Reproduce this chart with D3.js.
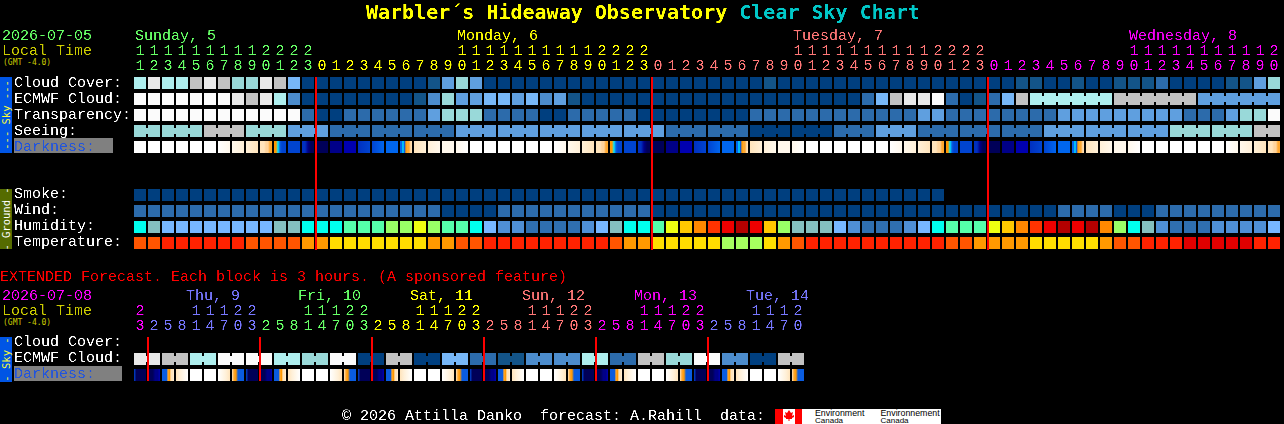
<!DOCTYPE html>
<html>
<head>
<meta charset="utf-8">
<title>Warbler's Hideaway Observatory Clear Sky Chart</title>
<script src="https://cdn.jsdelivr.net/npm/d3@7"></script>
<style>
html, body { margin: 0; padding: 0; background: #000; overflow: hidden; }
svg { display: block; }
text { white-space: pre; }
rect { shape-rendering: crispEdges; }
</style>
</head>
<body>
<div id="chart"></div>
<script>
// hour labels, main chart is hourly, extended is 3 hourly
const hours = [11,12,13,14,15,16,17,18,19,20,21,22,23,
  0,1,2,3,4,5,6,7,8,9,10,11,12,13,14,15,16,17,18,19,20,21,22,23,
  0,1,2,3,4,5,6,7,8,9,10,11,12,13,14,15,16,17,18,19,20,21,22,23,
  0,1,2,3,4,5,6,7,8,9,10,11,12,13,14,15,16,17,18,19,20];
const hourDays = [0,0,0,0,0,0,0,0,0,0,0,0,0,
  1,1,1,1,1,1,1,1,1,1,1,1,1,1,1,1,1,1,1,1,1,1,1,1,
  2,2,2,2,2,2,2,2,2,2,2,2,2,2,2,2,2,2,2,2,2,2,2,2,
  3,3,3,3,3,3,3,3,3,3,3,3,3,3,3,3,3,3,3,3,3];
const dayNames = ["Sunday, 5", "Monday, 6", "Tuesday, 7", "Wednesday, 8"];
const dayLabelCols = [0, 23, 47, 71];
const midnightCols = [13, 37, 61];

const extHours = [23,
  2,5,8,11,14,17,20,23, 2,5,8,11,14,17,20,23, 2,5,8,11,14,17,20,23,
  2,5,8,11,14,17,20,23, 2,5,8,11,14,17,20,23, 2,5,8,11,14,17,20];
const extDays = [0,
  1,1,1,1,1,1,1,1, 2,2,2,2,2,2,2,2, 3,3,3,3,3,3,3,3,
  4,4,4,4,4,4,4,4, 5,5,5,5,5,5,5,5, 6,6,6,6,6,6,6];
const extDayNames = ["", "Thu, 9", "Fri, 10", "Sat, 11", "Sun, 12", "Mon, 13", "Tue, 14"];
const extDayCols = [0, 3.71, 11.71, 19.71, 27.71, 35.71, 43.71];
const extMidnightCols = [1, 9, 17, 25, 33, 41];

// sky rows, values are tenths of the blue-to-white scale
const cloudCover = [7,9,7,7,8,9,8,6,6,9,8,5,
  0,0,0,0,0,0,0,0,0,1,4,6,4,
  0,0,0,0,0,0,0,0,0,0,0,0,0,0,0,0,0,0,0,0,1,0,0,0,0,0,0,
  0,0,0,0,0,0,0,0,0,0,0,1,1,0,0,1,0,0,1,1,1,2,0,0,0,0,1,1,4,6];
const ecmwfCloud = [10,10,10,10,10,10,10,9,8,9,7,3,
  0,0,0,0,0,0,0,0,1,3,6,4,4,5,5,4,5,3,4,1,
  0,0,0,0,0,0,0,0,0,0,0,0,0,0,0,0,0,0,0,0,
  2,5,8,9,9,10,2,0,1,2,5,8,
  7,7,7,7,7,7,8,8,8,8,8,8,4,4,4,4,4,4];
const ecmwfBlocks = [1,1,1,1,1,1,1,1,1,1,1,1,1,1,1,1,1,1,1,1,1,1,1,1,1,1,1,1,1,1,1,1,
  1,1,1,1,1,1,1,1,1,1,1,1,1,1,1,1,1,1,1,1,1,1,1,1,1,1,1,1,1,1,1,1,6,6,6];
const transparency = [10,10,10,10,10,10,10,10,10,10,10,10,
  2,0,0,2,2,2,2,2,2,4,6,6,6,2,2,2,2,0,0,2,2,2,2,2,
  0,0,0,0,0,0,0,0,2,2,2,2,2,2,2,2,
  2,2,2,2,4,4,2,2,2,2,2,2,2,2,4,4,4,4,4,4,4,4,4,2,2,2,4,6,6,10];
const seeingBlocks = [2,3,3,3,3,3,3,3,3,3,3,3,3,3,3,3,3,3,3,3,3,3,3,3,3,3,3,2];
const seeingValues = [6,6,8,6,4,2,2,2,4,4,4,4,4,2,2,0,0,2,4,2,2,2,4,4,4,6,6,8];
// each letter is one darkness cell, see darknessCells
const darkness = ["A","A","A","A","A","A","B","C","D","E","F","G","H","I","J","K","L","M","N","O","P","Q","R","S",
  "A","A","A","A","A","A","B","C","D","E","F","G","H","I","J","K","L","M","N","O","P","Q","R","S",
  "A","A","A","A","A","A","B","C","D","E","F","G","H","I","J","K","L","M","N","O","P","Q","R","S",
  "A","A","A","A","A","A","B","C","D","E"];
// levels across one cell, left to right
const darknessCells = {
  A: [0,0], B: [0,1], C: [1,2], D: [2,3], E: [3,3,3,4,4,5,5],
  F: [6,6,7,8,9,9,9], G: [9,9], H: [10,10,12,13,13], I: [13,13], J: [12,12],
  K: [11,11], L: [10,9], M: [9,14], N: [14,14], O: [14,14,7,8,6,5,5,4,3],
  P: [3,2], Q: [2,1], R: [1,1], S: [1,0],
  a: [9,13,13,13,13,13], b: [13,13,13,12,12,11], c: [8,8,8,8,5,6,3,3,2],
  d: [3,2,1,0], e: [0,1,2,3], f: [3,5,6,8,8,8,8]
};

// ground rows
const smoke = [0,0,0,0,0,0,0,0,0,0,0,0,0,0,0,0,0,0,0,0,0,0,0,0,0,0,0,0,0,0,0,0,0,0,0,0,0,0,0,0,0,0,0,0,0,0,0,0,0,0,0,0,0,0,0,0,0,0];
const wind = [2,2,2,2,2,2,2,2,2,2,2,2,2,2,2,2,2,2,2,2,2,2,0,0,0,0,2,2,2,2,2,2,2,2,2,2,2,
  0,0,0,0,0,0,0,0,0,0,0,0,0,0,0,0,0,0,0,0,0,0,0,0,0,0,0,0,0,
  2,2,2,2,0,0,0,2,2,2,2,2,2,2,2,2];
const humidity = [4,3,2,2,2,2,2,2,2,2,3,3,4,4,4,5,5,5,6,6,7,6,5,5,4,2,1,1,0,0,0,0,1,2,3,4,4,5,7,8,9,10,11,12,11,8,6,3,3,3,2,1,
  0,0,0,1,2,4,5,5,5,7,8,9,10,11,12,11,12,9,6,4,3,1,0,0,0,1,1,1,1,2];
const temperature = [3,3,4,4,4,4,4,4,3,3,3,3,2,2,1,1,1,1,1,1,1,2,2,3,3,4,4,4,4,4,4,4,4,4,3,2,2,1,1,1,1,1,0,0,0,1,2,3,4,4,4,4,
  4,4,4,4,4,4,3,3,2,2,2,2,1,1,1,1,1,2,3,3,4,4,4,5,5,5,5,5,4,4];

// extended rows, 3 hour cells in pairs
const extEcmwf = [9,9,8,8,7,7,10,10,10,10,7,7,6,6,10,10,0,0,8,8,0,0,5,5,2,2,1,1,3,3,3,3,7,7,2,2,8,8,6,6,10,10,3,3,0,0,8,8];
const extBlocks = [2,2,2,2,2,2,2,2,2,2,2,2,2,2,2,2,2,2,2,2,2,2,2,2];
const extDarkness = ["a","b","c","d","A","A","e","f",
  "a","b","c","d","A","A","e","f", "a","b","c","d","A","A","e","f",
  "a","b","c","d","A","A","e","f", "a","b","c","d","A","A","e","f", "a","b","c","d","A","A","e","f"];

const skyLabels = ["Cloud Cover:", "ECMWF Cloud:", "Transparency:", "Seeing:", "Darkness:"];
const groundLabels = ["Smoke:", "Wind:", "Humidity:", "Temperature:"];
const extLabels = ["Cloud Cover:", "ECMWF Cloud:", "Darkness:"];

// colours
const skyColor = d3.scaleOrdinal([0,1,2,3,4,5,6,7,8,9,10],
  ["#003f7f","#135488","#2c6bab","#4c8ccc","#5f9fdf","#77b7f7","#99d9d9","#aeeeee","#c2c2c2","#e9e9e9","#fbfbfb"]);
const humidityColor = d3.scaleOrdinal(d3.range(13),
  ["#2f6fb0","#4f8fd5","#77b7ff","#84bfbf","#00ffee","#55ffaa","#99ff66","#eeff11","#ffc800","#ff8800","#ff3300","#ee0000","#b30000"]);
const temperatureColor = d3.scaleOrdinal(d3.range(6),
  ["#a6ff5f","#ffdd00","#ff9900","#ff5500","#ff2200","#e00000"]);
const darknessColor = d3.scaleOrdinal(d3.range(15),
  ["#ffffff","#fff8ec","#fff0d8","#ffe4bc","#ffd49c","#ffa830","#ff9800","#00e8ff","#0a5ce0","#0044d0","#0030c0","#0000b0","#000088","#000058","#0066ee"]);
const dayColors = ["#66ff66","#ffff00","#ff7777","#ff00ff"];
const extDayColors = ["#ff00ff","#7777ff","#66ff66","#ffff00","#ff7777","#ff00ff","#7777ff"];

const cell = 12;
const x = d3.scaleLinear().domain([0, 1]).range([134, 148]);
const row = d3.scaleLinear().domain([0, 1]).range([0, 16]);

const svg = d3.select("#chart").append("svg")
  .attr("width", 1284)
  .attr("height", 424);

// steepens the text alpha so the glyphs come closer to a bitmap font, a hard cut breaks them up
const defs = svg.append("defs");
const crisp = defs.append("filter").attr("id", "crisp")
  .attr("filterUnits", "userSpaceOnUse")
  .attr("x", 0).attr("y", 0).attr("width", 1284).attr("height", 424)
  .attr("color-interpolation-filters", "sRGB");
crisp.append("feComponentTransfer").append("feFuncA")
  .attr("type", "linear")
  .attr("slope", 2.5)
  .attr("intercept", -0.8);

Object.entries(darknessCells).forEach(([key, levels]) => {
  defs.append("linearGradient").attr("id", `dark-${key}`)
    .selectAll("stop").data(levels).join("stop")
    .attr("offset", (d, i) => i / (levels.length - 1))
    .attr("stop-color", d => darknessColor(d));
});

const marks = svg.append("g");
const labels = svg.append("g").attr("filter", "url(#crisp)")
  .style("font-family", "'Liberation Mono', monospace");
const smallLabels = svg.append("g")
  .style("font-family", "'DejaVu Sans Mono', monospace");

function label(text, px, py, fill, size) {
  return labels.append("text")
    .attr("x", px)
    .attr("y", py)
    .attr("fill", fill)
    .attr("font-size", size || 15)
    .text(text);
}

function smallLabel(text, px, py, fill, size) {
  return smallLabels.append("text")
    .attr("x", px)
    .attr("y", py)
    .attr("fill", fill)
    .attr("font-size", size)
    .text(text);
}

function drawCells(values, y0, color) {
  marks.append("g").selectAll("rect").data(values).join("rect")
    .attr("x", (d, i) => x(i))
    .attr("y", y0)
    .attr("width", cell)
    .attr("height", cell)
    .attr("fill", d => color(d));
}

// same block cells are tied together with a short bar over the gap
function drawBridges(values, blocks, y0, color) {
  let col = 0;
  const bridges = [];
  blocks.forEach(size => {
    for (let k = 0; k < size - 1; k++) bridges.push(col + k);
    col += size;
  });
  marks.append("g").selectAll("rect").data(bridges).join("rect")
    .attr("x", d => x(d) + cell)
    .attr("y", y0 + 3)
    .attr("width", x(1) - x(0) - cell)
    .attr("height", cell - 6)
    .attr("fill", d => color(values[d]));
}

function drawDarkness(values, y0) {
  marks.append("g").selectAll("rect").data(values).join("rect")
    .attr("x", (d, i) => x(i))
    .attr("y", y0)
    .attr("width", cell)
    .attr("height", cell)
    .attr("fill", d => `url(#dark-${d})`);
}

function drawHourLabels(hourList, days, colors, tensY, unitsY) {
  hourList.forEach((h, i) => {
    const cx = x(i) + cell / 2;
    if (h >= 10) label(Math.floor(h / 10), cx, tensY, colors[days[i]]).attr("text-anchor", "middle");
    label(h % 10, cx, unitsY, colors[days[i]]).attr("text-anchor", "middle");
  });
}

function drawMidnights(cols, y0, y1) {
  marks.append("g").selectAll("rect").data(cols).join("rect")
    .attr("x", d => x(d) - 1)
    .attr("y", y0)
    .attr("width", 2)
    .attr("height", y1 - y0)
    .attr("fill", "#ff0000");
}

function sideStrip(y0, y1, fill, text, textFill) {
  marks.append("rect")
    .attr("x", 0).attr("y", y0)
    .attr("width", 12).attr("height", y1 - y0)
    .attr("fill", fill);
  smallLabel(text, 0, 0, textFill, 10.5)
    .attr("text-anchor", "middle")
    .attr("transform", `translate(9.5,${(y0 + y1) / 2}) rotate(-90)`);
}

// title
const title = labels.append("text")
  .attr("x", 366).attr("y", 19)
  .attr("font-size", 20)
  .style("font-weight", "bold")
  .style("font-family", "'DejaVu Sans Mono', monospace");
title.append("tspan").attr("fill", "#ffff00").text("Warbler´s Hideaway Observatory ");
title.append("tspan").attr("fill", "#00c8c8").text("Clear Sky Chart");

// main chart header
label("2026-07-05", 2, 40, "#66ff66");
label("Local Time", 2, 55, "#cccc00");
smallLabel("(GMT -4.0)", 3, 65, "#cccc00", 8);
dayNames.forEach((d, i) => label(d, x(dayLabelCols[i]) + 1, 40, dayColors[i]));
drawHourLabels(hours, hourDays, dayColors, 55, 70);

// sky block
const seeing = seeingValues.flatMap((v, i) => d3.range(seeingBlocks[i]).map(() => v));
const skyTop = 77;
sideStrip(skyTop, skyTop + row(5) - 4, "#0055e5", "--- Sky ---", "#ffff33");
skyLabels.forEach((d, i) => {
  if (d === "Darkness:") {
    marks.append("rect").attr("x", 14).attr("y", skyTop + row(i) - 3).attr("width", 99).attr("height", 15).attr("fill", "#808080");
    label(d, 14, skyTop + row(i) + 10, "#2255dd");
  } else {
    label(d, 14, skyTop + row(i) + 10, "#ffffff");
  }
});
drawCells(cloudCover, skyTop + row(0), skyColor);
drawCells(ecmwfCloud, skyTop + row(1), skyColor);
drawBridges(ecmwfCloud, ecmwfBlocks, skyTop + row(1), skyColor);
drawCells(transparency, skyTop + row(2), skyColor);
drawCells(seeing, skyTop + row(3), skyColor);
drawBridges(seeing, seeingBlocks, skyTop + row(3), skyColor);
drawDarkness(darkness, skyTop + row(4));

// ground block
const groundTop = 189;
sideStrip(groundTop, groundTop + row(4) - 4, "#556b00", "- Ground -", "#ffffff");
groundLabels.forEach((d, i) => label(d, 14, groundTop + row(i) + 9, "#ffffff"));
drawCells(smoke, groundTop + row(0), skyColor);
drawCells(wind, groundTop + row(1), skyColor);
drawCells(humidity, groundTop + row(2), humidityColor);
drawCells(temperature, groundTop + row(3), temperatureColor);
drawMidnights(midnightCols, 77, 250);

// extended forecast
label("EXTENDED Forecast. Each block is 3 hours. (A sponsored feature)", 0, 281, "#ff0000");
label("2026-07-08", 2, 300, "#ff00ff");
label("Local Time", 2, 315, "#cccc00");
smallLabel("(GMT -4.0)", 3, 325, "#cccc00", 8);
extDayNames.forEach((d, i) => label(d, x(extDayCols[i]), 300, extDayColors[i]));
drawHourLabels(extHours, extDays, extDayColors, 315, 330);

const extTop = 337;
sideStrip(extTop, extTop + row(3) - 3, "#0055e5", "- Sky -", "#ffff33");
extLabels.forEach((d, i) => {
  if (d === "Darkness:") {
    marks.append("rect").attr("x", 14).attr("y", extTop + row(i) - 3).attr("width", 108).attr("height", 15).attr("fill", "#808080");
    label(d, 14, extTop + row(i) + 9, "#2255dd");
  } else {
    label(d, 14, extTop + row(i) + 9, "#ffffff");
  }
});
drawCells(extEcmwf, extTop + row(1), skyColor);
drawBridges(extEcmwf, extBlocks, extTop + row(1), skyColor);
drawDarkness(extDarkness, extTop + row(2));
drawMidnights(extMidnightCols, 337, 381);

// footer
label("© 2026 Attilla Danko  forecast: A.Rahill  data:", 342, 420, "#ffffff");
const logo = svg.append("g");
logo.append("rect").attr("x", 775).attr("y", 409).attr("width", 166).attr("height", 15).attr("fill", "#ffffff");
logo.append("rect").attr("x", 775).attr("y", 409).attr("width", 8).attr("height", 15).attr("fill", "#ff0000");
logo.append("rect").attr("x", 795).attr("y", 409).attr("width", 7).attr("height", 15).attr("fill", "#ff0000");
logo.append("path")
  .attr("d", "M789 410l2 3 2-1-1 4 2-1 0 2-2 1 0 1-2.5 0 0 2-1 0 0-2-2.5 0 0-1-2-1 0-2 2 1-1-4 2 1z")
  .attr("fill", "#ff0000");
["Environment", "Environnement"].forEach((d, i) => {
  logo.append("text").attr("x", i ? 880.5 : 815).attr("y", 415.5)
    .attr("font-size", 8.8).style("font-family", "'Liberation Sans', sans-serif").attr("fill", "#000").text(d);
  logo.append("text").attr("x", i ? 880.5 : 815).attr("y", 423)
    .attr("font-size", 8).style("font-family", "'Liberation Sans', sans-serif").attr("fill", "#000").text("Canada");
});
</script>
</body>
</html>
